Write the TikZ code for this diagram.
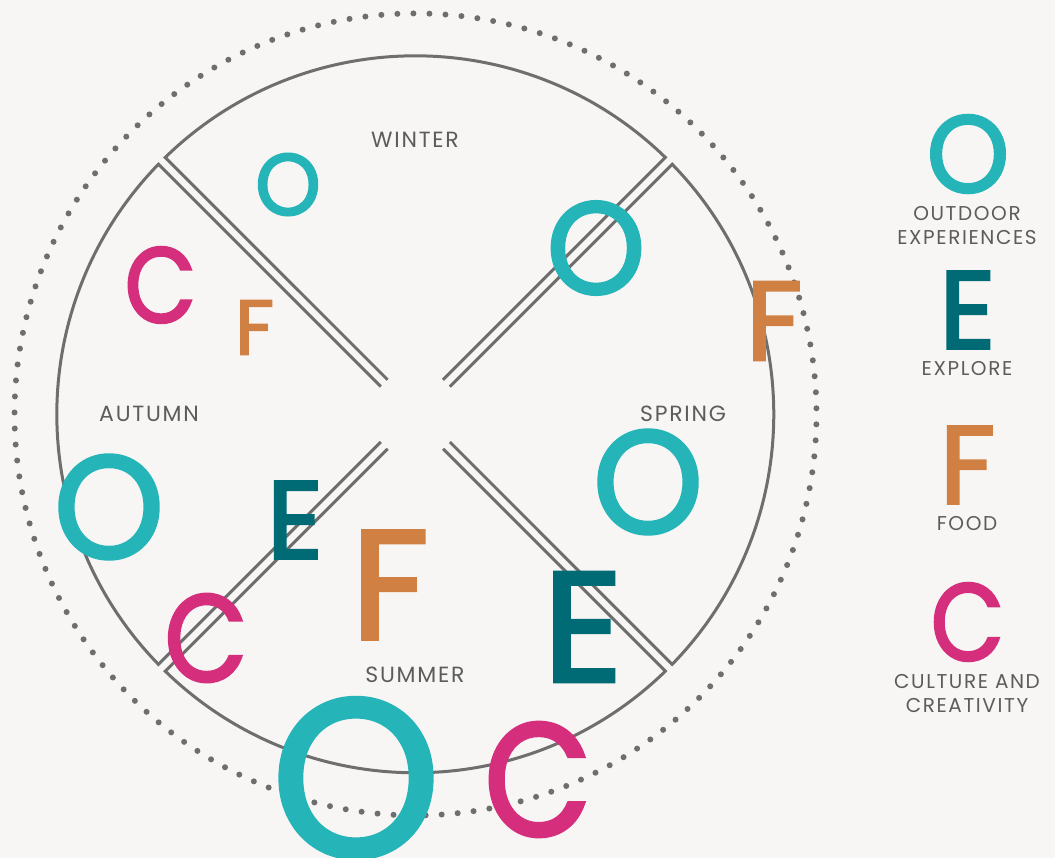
\documentclass[tikz,border=0pt]{standalone}
\usepackage{fontspec}
\usepackage{graphicx}
\setmainfont{Poppins}
\newfontfamily\labfont[LetterSpace=8]{Poppins}
\newfontfamily\letfont[FakeBold=2.3]{Poppins}
\definecolor{bgc}{HTML}{F7F6F5}
\definecolor{linec}{HTML}{6E6E6E}
\definecolor{textc}{HTML}{5C5C5C}
\definecolor{oc}{HTML}{25B5B8}
\definecolor{ec}{HTML}{006B75}
\definecolor{fc}{HTML}{D08042}
\definecolor{cc}{HTML}{D42E7D}
\newcommand\glyph[3][1]{\scalebox{#1}[1]{\resizebox*{!}{#3pt}{\letfont #2}}}
\tikzset{
  quad/.style={draw=linec, line width=3pt, line join=miter},
  lab/.style={text=textc, font=\labfont\fontsize{20}{24}\selectfont, inner sep=0pt, align=center},
  slab/.style={lab, font=\labfont\fontsize{22}{26}\selectfont},
  lo/.style={text=oc, inner sep=0pt},
  le/.style={text=ec, inner sep=0pt},
  lf/.style={text=fc, inner sep=0pt},
  lc/.style={text=cc, inner sep=0pt},
}
\begin{document}
\begin{tikzpicture}[x=1pt,y=-1pt]
\fill[bgc] (0,0) rectangle (1055,858);
\useasboundingbox (0,0) rectangle (1055,858);
% main circle split into four quadrants
\begin{scope}[shift={(415.3,414.3)}]
  \foreach \p in {-90,0,90,180}{
    \draw[quad] (\p-45+6.3:44.27) -- (\p-45+0.775:358.5)
      arc[start angle=\p-45+0.775, end angle=\p+45-0.775, radius=358.5]
      -- (\p+45-6.3:44.27);
  }
\end{scope}
% dotted circle
\begin{scope}[shift={(415.5,414.4)}]
  \foreach \i in {0,...,156}{
    \fill[linec] ({-90.3+\i*2.292994}:401) circle[radius=3];
  }
\end{scope}
% season labels
\node[slab] (winter) at (415,140) {WINTER};
\node[slab] (spring) at (683,413.5) {SPRING};
\node[slab] (autumn) at (149,413.8) {AUTUMN};
\node[slab] (summer) at (415,675) {SUMMER};
% legend labels
\node[lab] (lgo) at (967,225.5) {OUTDOOR\\EXPERIENCES};
\node[lab] (lge) at (967,368.5) {EXPLORE};
\node[lab] (lgf) at (967,523.5) {FOOD};
\node[lab] (lgc) at (967,693.5) {CULTURE AND\\CREATIVITY};
% letters in the circle
\node[lo] (o1) at (288,184.5) {\glyph[0.96]{O}{62}};
\node[lo] (o2) at (596,248) {\glyph[0.96]{O}{93}};
\node[lo] (o3) at (648,482) {\glyph[0.96]{O}{104}};
\node[lo] (o4) at (109,507) {\glyph[0.96]{O}{104}};
\node[lo] (o5) at (356,778) {\glyph[0.96]{O}{159}};
\node[le] (e1) at (295,520) {\glyph{E}{77}};
\node[le] (e2) at (583,627) {\glyph{E}{109}};
\node[lf] (f1) at (254.5,327.5) {\glyph{F}{54}};
\node[lf] (f2) at (774,321) {\glyph{F}{78}};
\node[lf] (f3) at (390,585) {\glyph{F}{108}};
\node[lc] (c1) at (160.5,285) {\glyph[0.87]{C}{76}};
\node[lc] (c2) at (206,638) {\glyph[0.87]{C}{88}};
\node[lc] (c3) at (538,779.5) {\glyph[0.87]{C}{114}};
% legend letters
\node[lo] (lo) at (968,154) {\glyph[0.96]{O}{78}};
\node[le] (le) at (967.5,310) {\glyph{E}{77}};
\node[lf] (lf) at (967.5,465) {\glyph{F}{77}};
\node[lc] (lc) at (967.5,622) {\glyph[0.87]{C}{78}};
\end{tikzpicture}
\end{document}
